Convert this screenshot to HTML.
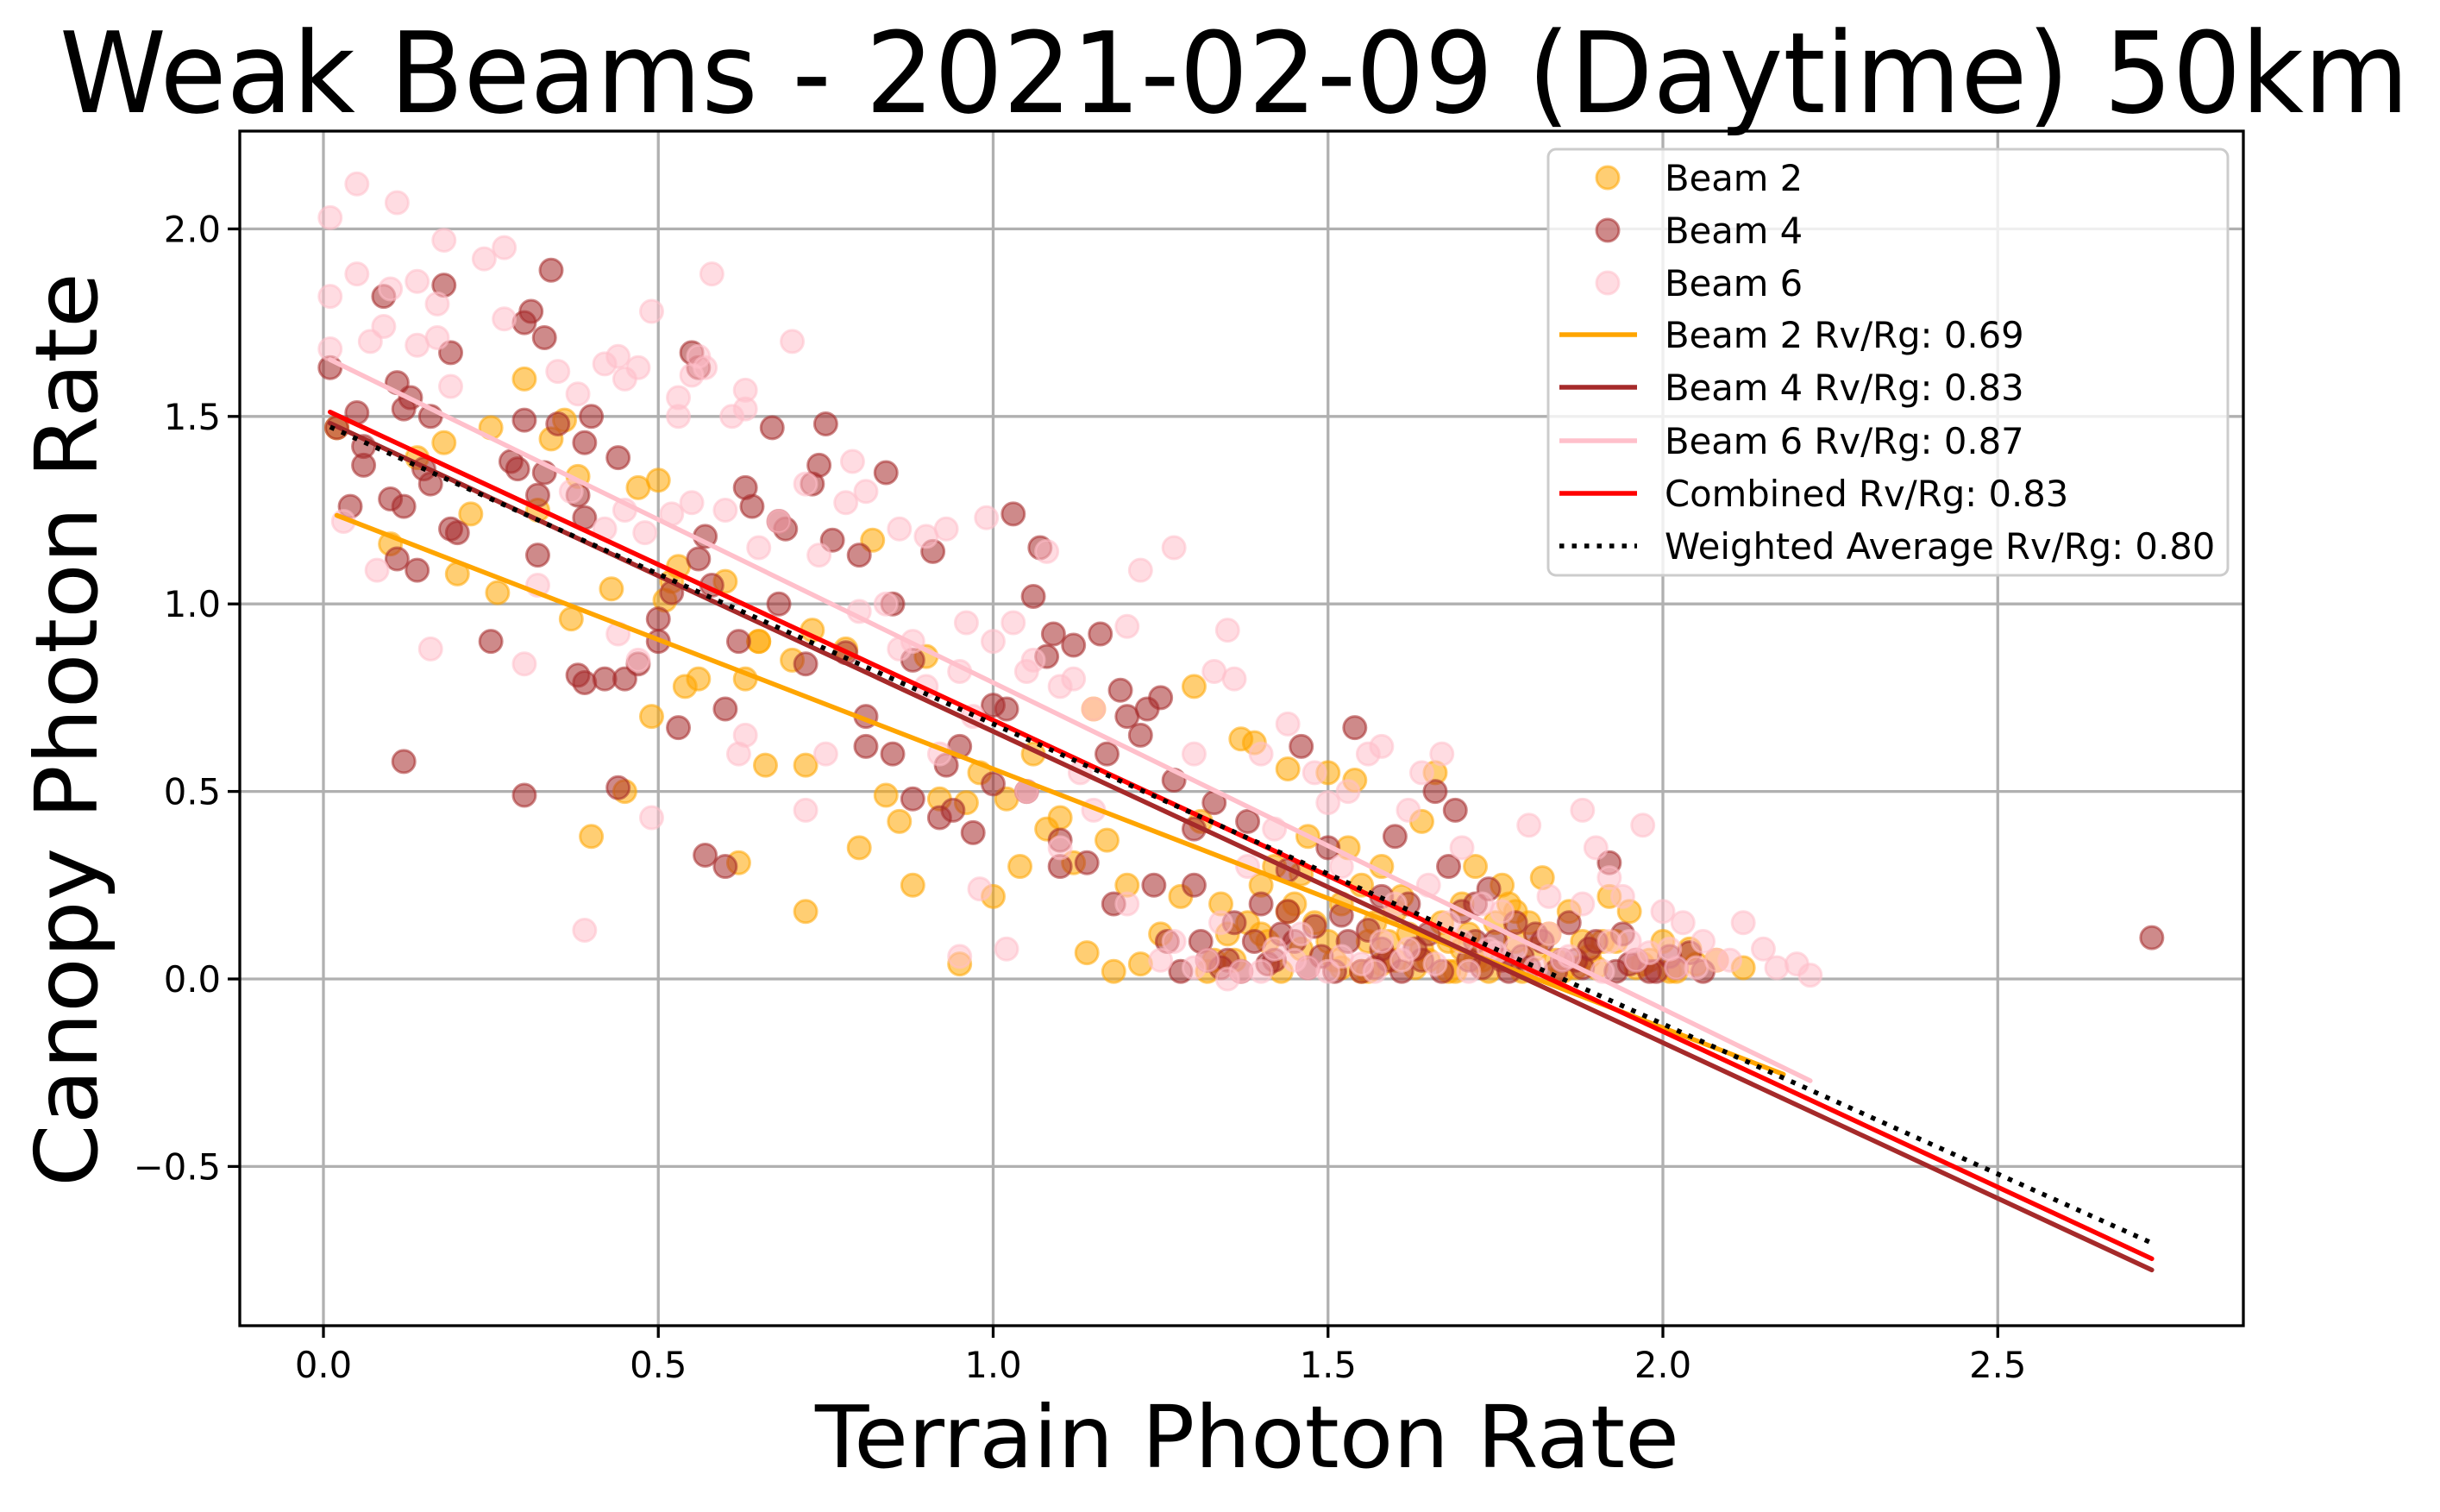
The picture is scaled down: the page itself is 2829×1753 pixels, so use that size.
<!DOCTYPE html>
<html><head><meta charset="utf-8"><style>
html,body{margin:0;padding:0;background:#fff;}
svg{display:block;font-family:"DejaVu Sans","Liberation Sans",sans-serif;}
</style></head><body>
<svg id="chart" width="2829" height="1753" viewBox="0 0 2829 1753" xmlns="http://www.w3.org/2000/svg">
<rect x="0" y="0" width="2829" height="1753" fill="#fff"/>
<g id="grid"></g>
<g id="scatter"></g>
<g id="fits"></g>
<rect x="278" y="152" width="2323" height="1385" fill="none" stroke="#000" stroke-width="3.3"/>
<g id="ticks"></g>
<text x="1431" y="130" font-size="130" text-anchor="middle" textLength="2724" lengthAdjust="spacingAndGlyphs">Weak Beams - 2021-02-09 (Daytime) 50km</text>
<text x="1446" y="1701" font-size="100" text-anchor="middle" textLength="1002" lengthAdjust="spacingAndGlyphs">Terrain Photon Rate</text>
<text transform="translate(112,846) rotate(-90)" font-size="100" text-anchor="middle" textLength="1060" lengthAdjust="spacingAndGlyphs">Canopy Photon Rate</text>
<g id="legend">
<rect x="1795" y="173" width="788" height="494" rx="9" fill="#fff" fill-opacity="0.8" stroke="#ccc" stroke-width="3"/>
</g>
</svg>
<script>
const beam2X=[0.02,0.1,0.14,0.18,0.2,0.22,0.25,0.26,0.3,0.32,0.34,0.36,0.37,0.38,0.4,0.43,0.45,0.47,0.49,0.5,0.51,0.53,0.54,0.56,0.6,0.62,0.63,0.65,0.66,0.7,0.72,0.73,0.72,0.78,0.8,0.82,0.84,0.86,0.88,0.9,0.92,0.95,0.96,0.98,1.0,1.02,1.04,1.06,1.08,1.1,1.12,1.14,1.15,1.17,1.18,1.2,1.22,1.25,1.28,1.3,1.31,1.33,1.35,1.37,1.39,1.4,1.42,1.44,1.46,1.47,1.5,1.52,1.54,1.55,1.57,1.58,1.6,1.62,1.64,1.66,1.68,1.7,1.72,1.74,1.76,1.78,1.8,1.82,1.84,1.86,1.88,1.9,1.92,1.95,1.98,2.0,2.02,2.05,2.12,1.45,1.5,1.55,1.6,1.65,1.7,1.75,1.38,0.52,0.65,
1.32,1.36,1.41,1.43,1.48,1.51,1.53,1.56,1.59,1.61,1.63,1.67,1.69,1.71,1.73,1.77,1.79,1.81,1.83,1.87,1.89,1.93,1.97,2.01,2.04,1.34,1.4,1.46,1.52,1.58,1.64,1.72,1.78,1.85,1.91,1.96,2.08,1.44,1.56,1.68];
const beam2Y=[1.47,1.16,1.39,1.43,1.08,1.24,1.47,1.03,1.6,1.25,1.44,1.49,0.96,1.34,0.38,1.04,0.5,1.31,0.7,1.33,1.01,1.1,0.78,0.8,1.06,0.31,0.8,0.9,0.57,0.85,0.57,0.93,0.18,0.88,0.35,1.17,0.49,0.42,0.25,0.86,0.48,0.04,0.47,0.55,0.22,0.48,0.3,0.6,0.4,0.43,0.31,0.07,0.72,0.37,0.02,0.25,0.04,0.12,0.22,0.78,0.42,0.05,0.12,0.64,0.63,0.25,0.3,0.56,0.08,0.38,0.55,0.2,0.53,0.02,0.15,0.3,0.05,0.12,0.42,0.55,0.1,0.2,0.3,0.02,0.25,0.1,0.15,0.27,0.05,0.18,0.1,0.03,0.22,0.18,0.05,0.1,0.02,0.04,0.03,0.2,0.1,0.25,0.18,0.05,0.08,0.15,0.15,1.06,0.9,
0.02,0.05,0.1,0.02,0.15,0.05,0.35,0.02,0.1,0.22,0.03,0.15,0.02,0.12,0.05,0.2,0.02,0.08,0.12,0.03,0.06,0.1,0.04,0.02,0.08,0.2,0.12,0.28,0.03,0.04,0.08,0.05,0.18,0.02,0.1,0.03,0.05,0.18,0.1,0.02];
const beam4X=[0.01,0.05,0.09,0.11,0.13,0.18,0.19,0.16,0.2,0.19,0.02,0.06,0.04,0.1,0.12,0.11,0.14,0.12,0.15,0.16,0.25,0.28,0.29,0.3,0.31,0.33,0.34,0.3,0.33,0.35,0.39,0.4,0.38,0.39,0.32,0.32,0.38,0.39,0.42,0.45,0.44,0.3,0.44,0.47,0.5,0.53,0.52,0.55,0.56,0.56,0.57,0.58,0.57,0.6,0.6,0.62,0.63,0.64,0.67,0.68,0.69,0.72,0.73,0.74,0.75,0.76,0.78,0.8,0.81,0.81,0.84,0.85,0.85,0.88,0.91,0.93,0.92,0.94,0.97,1.0,1.02,1.03,1.05,1.06,1.07,1.08,1.09,1.1,1.1,1.12,1.14,1.16,1.17,1.18,1.19,1.2,1.22,1.23,1.24,1.25,1.27,1.3,1.31,1.33,1.34,1.36,1.38,1.4,1.42,1.44,1.46,1.48,1.5,1.52,1.54,1.56,1.58,1.6,1.62,1.64,1.66,1.68,1.69,1.7,1.72,1.74,1.76,1.78,1.8,1.82,1.85,1.88,1.9,1.92,1.94,1.96,1.98,2.01,2.04,2.06,2.73,1.26,1.35,1.45,1.55,1.65,0.06,0.12,0.5,0.68,0.88,0.95,1.0,
1.28,1.32,1.37,1.39,1.41,1.43,1.47,1.49,1.51,1.53,1.57,1.59,1.61,1.63,1.67,1.71,1.73,1.75,1.77,1.79,1.81,1.84,1.87,1.89,1.93,1.95,1.99,2.02,1.3,1.44,1.58,1.72,1.86];
const beam4Y=[1.63,1.51,1.82,1.59,1.55,1.85,1.67,1.5,1.19,1.2,1.47,1.42,1.26,1.28,1.26,1.12,1.09,0.58,1.36,1.32,0.9,1.38,1.36,1.75,1.78,1.71,1.89,1.49,1.35,1.48,1.43,1.5,1.29,1.23,1.29,1.13,0.81,0.79,0.8,0.8,1.39,0.49,0.51,0.84,0.96,0.67,1.03,1.67,1.63,1.12,1.18,1.05,0.33,0.3,0.72,0.9,1.31,1.26,1.47,1.22,1.2,0.84,1.32,1.37,1.48,1.17,0.87,1.13,0.7,0.62,1.35,1.0,0.6,0.85,1.14,0.57,0.43,0.45,0.39,0.73,0.72,1.24,0.5,1.02,1.15,0.86,0.92,0.37,0.3,0.89,0.31,0.92,0.6,0.2,0.77,0.7,0.65,0.72,0.25,0.75,0.53,0.4,0.1,0.47,0.03,0.15,0.42,0.2,0.05,0.29,0.62,0.14,0.35,0.17,0.67,0.13,0.08,0.38,0.2,0.05,0.5,0.3,0.45,0.18,0.1,0.24,0.05,0.15,0.03,0.1,0.05,0.03,0.1,0.31,0.12,0.05,0.02,0.06,0.07,0.02,0.11,0.1,0.05,0.1,0.02,0.12,1.37,1.52,0.9,1.0,0.48,0.62,0.52,
0.02,0.05,0.02,0.1,0.04,0.12,0.03,0.06,0.02,0.1,0.03,0.05,0.02,0.08,0.02,0.05,0.03,0.1,0.02,0.06,0.12,0.02,0.05,0.08,0.02,0.04,0.02,0.03,0.25,0.18,0.22,0.2,0.15];
const beam6X=[0.01,0.05,0.11,0.01,0.05,0.18,0.14,0.27,0.09,0.1,0.17,0.24,0.27,0.19,0.01,0.07,0.14,0.17,0.03,0.08,0.16,0.3,0.39,0.35,0.38,0.42,0.44,0.45,0.47,0.49,0.53,0.53,0.55,0.58,0.56,0.57,0.63,0.61,0.63,0.7,0.72,0.78,0.79,0.81,0.86,0.9,0.93,0.99,0.6,0.65,0.52,0.55,0.45,0.42,0.48,0.37,0.32,0.44,0.47,0.49,0.62,0.63,0.72,0.75,0.88,0.9,0.95,0.97,0.98,0.95,1.02,1.0,1.03,1.05,1.08,1.1,1.15,1.2,1.22,1.27,1.13,1.15,1.2,1.25,1.3,1.33,1.35,1.36,1.4,1.44,1.48,1.5,1.53,1.56,1.58,1.62,1.64,1.67,1.7,1.73,1.76,1.8,1.83,1.88,1.9,1.92,1.94,1.97,2.0,2.03,2.06,2.12,2.15,2.17,2.2,2.22,2.08,1.95,1.85,1.78,1.7,1.62,1.55,1.5,1.45,1.4,1.35,1.3,1.27,1.6,1.65,1.52,1.42,1.38,1.83,1.88,1.98,2.02,1.1,1.05,0.8,0.84,0.92,
1.32,1.37,1.42,1.47,1.52,1.57,1.61,1.66,1.71,1.75,1.81,1.86,1.91,1.96,2.01,2.05,2.1,1.34,1.46,1.58,1.68,1.74,1.92,0.68,0.74,0.86,0.96,1.06,1.12];
const beam6Y=[2.03,2.12,2.07,1.82,1.88,1.97,1.86,1.95,1.74,1.84,1.8,1.92,1.76,1.58,1.68,1.7,1.69,1.71,1.22,1.09,0.88,0.84,0.13,1.62,1.56,1.64,1.66,1.6,1.63,1.78,1.55,1.5,1.61,1.88,1.66,1.63,1.57,1.5,1.52,1.7,1.32,1.27,1.38,1.3,1.2,1.18,1.2,1.23,1.25,1.15,1.24,1.27,1.25,1.2,1.19,1.3,1.05,0.92,0.85,0.43,0.6,0.65,0.45,0.6,0.9,0.78,0.82,0.7,0.24,0.06,0.08,0.9,0.95,0.82,1.14,0.78,0.72,0.94,1.09,1.15,0.55,0.45,0.2,0.05,0.6,0.82,0.93,0.8,0.6,0.68,0.55,0.47,0.5,0.6,0.62,0.45,0.55,0.6,0.35,0.2,0.18,0.41,0.22,0.45,0.35,0.27,0.22,0.41,0.18,0.15,0.1,0.15,0.08,0.03,0.04,0.01,0.05,0.1,0.05,0.08,0.1,0.08,0.04,0.02,0.05,0.02,0.0,0.03,0.1,0.2,0.25,0.3,0.4,0.3,0.12,0.2,0.07,0.03,0.35,0.5,0.98,1.0,0.6,
0.05,0.02,0.08,0.03,0.06,0.02,0.05,0.04,0.02,0.07,0.03,0.06,0.02,0.05,0.08,0.03,0.05,0.15,0.12,0.1,0.15,0.08,0.1,1.22,1.13,0.88,0.95,0.85,0.8];
const fitNames=["Beam 2 Rv/Rg: 0.69","Beam 4 Rv/Rg: 0.83","Beam 6 Rv/Rg: 0.87","Combined Rv/Rg: 0.83","Weighted Average Rv/Rg: 0.80"];
const fitSlopes=[-0.69,-0.83,-0.87,-0.83,-0.80];
const fitIntercepts=[1.25,1.49,1.66,1.52,1.48];
const fitXStart=[0.02,0.01,0.01,0.01,0.01];
const fitXEnd=[2.18,2.73,2.22,2.73,2.73];
const xTicks=[0,0.5,1.0,1.5,2.0,2.5];
const xTickLabels=["0.0","0.5","1.0","1.5","2.0","2.5"];
const yTicks=[-0.5,0,0.5,1.0,1.5,2.0];
const yTickLabels=["\u22120.5","0.0","0.5","1.0","1.5","2.0"];

const NS="http://www.w3.org/2000/svg";
const X0=375,XU=776.5,Y0=1135,YU=434.8,L=278,R=2601,T=152,B=1537;
const sx=v=>X0+v*XU, sy=v=>Y0-v*YU;
function mk(tag,attrs,parent){const e=document.createElementNS(NS,tag);for(const k in attrs)e.setAttribute(k,attrs[k]);parent.appendChild(e);return e;}
const grid=document.getElementById('grid'),ticks=document.getElementById('ticks');
xTicks.forEach((v,i)=>{
  const g=mk('line',{x1:sx(v),x2:sx(v),y1:T,y2:B,stroke:'#b0b0b0','stroke-width':3.3},grid);
  
  
  const t=mk('line',{x1:sx(v),x2:sx(v),y1:B,y2:B+14,stroke:'#000','stroke-width':3.3},ticks);
  
  
  const l=mk('text',{x:sx(v),y:1597,'font-size':41.7,'text-anchor':'middle'},ticks);
  
  
  l.textContent=xTickLabels[i];
});
yTicks.forEach((v,i)=>{
  const g=mk('line',{x1:L,x2:R,y1:sy(v),y2:sy(v),stroke:'#b0b0b0','stroke-width':3.3},grid);
  
  
  const t=mk('line',{x1:L-14,x2:L,y1:sy(v),y2:sy(v),stroke:'#000','stroke-width':3.3},ticks);
  
  
  const l=mk('text',{x:L-22,y:sy(v)+15,'font-size':41.7,'text-anchor':'end'},ticks);
  
  
  l.textContent=yTickLabels[i];
});
const sc=document.getElementById('scatter');
const series=[[beam2X,beam2Y,'#ffa500','beam-2-point'],[beam4X,beam4Y,'#a52a2a','beam-4-point'],[beam6X,beam6Y,'#ffc0cb','beam-6-point']];
series.forEach(s=>{
  s[0].forEach((xv,i)=>{
    const c=mk('circle',{cx:sx(xv),cy:sy(s[1][i]),r:13,fill:s[2],'fill-opacity':0.55,stroke:s[2],'stroke-opacity':0.55,'stroke-width':3},sc);
    
    
  });
});
const fitColors=['#ffa500','#a52a2a','#ffc0cb','#ff0000','#000'];
const fits=document.getElementById('fits');
fitSlopes.forEach((m,i)=>{
  const a=fitXStart[i],b=fitXEnd[i];
  const attrs={x1:sx(a),y1:sy(fitIntercepts[i]+m*a),x2:sx(b),y2:sy(fitIntercepts[i]+m*b),stroke:fitColors[i],'stroke-width':5.5,'stroke-linecap':i==4?'butt':'round'};
  if(i==4)attrs['stroke-dasharray']='5.5 9';
  const ln=mk('line',attrs,fits);
  
  
});
const leg=document.getElementById('legend');
const rowsY=[206,267,328,388,449,511,572,633];
const labels=["Beam 2","Beam 4","Beam 6"].concat(fitNames);
rowsY.forEach((y,i)=>{
  if(i<3){
    const c=mk('circle',{cx:1864,cy:y,r:13,fill:series[i][2],'fill-opacity':0.55,stroke:series[i][2],'stroke-opacity':0.55,'stroke-width':3},leg);
    
    
  }else{
    const a={x1:1808,x2:1898,y1:y,y2:y,stroke:fitColors[i-3],'stroke-width':5.5};
    if(i==7)a['stroke-dasharray']='5.5 9';
    const l=mk('line',a,leg);
    
    
  }
  const t=mk('text',{x:1930,y:y+15,'font-size':41.7},leg);
  
  
  t.textContent=labels[i];
});
</script>
</body></html>
